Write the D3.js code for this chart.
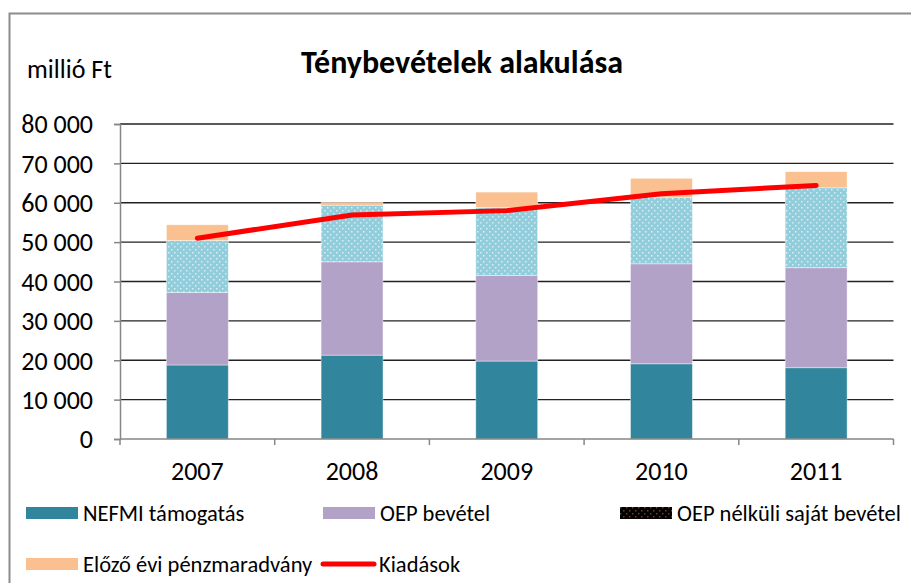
<!DOCTYPE html>
<html><head><meta charset="utf-8">
<script src="https://cdn.jsdelivr.net/npm/d3@7"></script>
<style>body{margin:0;background:#fff}svg{display:block}text{font-family:Carlito,Calibri,Lato,sans-serif}</style>
</head><body>
<script>
const years = ["2007","2008","2009","2010","2011"];
const nefmi = [18800, 21300, 19800, 19100, 18100];
const oep = [18400, 23700, 21700, 25400, 25400];
const sajat = [13200, 14400, 17300, 16900, 20300];
const maradvany = [4000, 700, 3900, 4800, 4100];
const kiadasok = [51000, 56900, 58000, 62300, 64400];
const yTicks = [0,10000,20000,30000,40000,50000,60000,70000,80000];
const seriesNames = ["NEFMI támogatás","OEP bevétel","OEP nélküli saját bevétel","Előző évi pénzmaradvány","Kiadások"];
const colors = ["#31859C","#B2A2C7","#92CDDC","#FAC090","#FF0000"];

const W=911,H=583;
const svg=d3.select("body").append("svg").attr("width",W).attr("height",H);
const defs=svg.append("defs");
const p1=defs.append("pattern").attr("id","dots").attr("width",6).attr("height",6).attr("patternUnits","userSpaceOnUse");
p1.append("rect").attr("width",6).attr("height",6).attr("fill",colors[2]);
p1.append("rect").attr("x",0).attr("y",0).attr("width",1.5).attr("height",1.5).attr("fill","#d6eef5");
p1.append("rect").attr("x",3).attr("y",3).attr("width",1.5).attr("height",1.5).attr("fill","#d6eef5");
const p2=defs.append("pattern").attr("id","dotsLeg").attr("width",6).attr("height",6).attr("patternUnits","userSpaceOnUse");
p2.append("rect").attr("width",6).attr("height",6).attr("fill","#000");
p2.append("rect").attr("x",0).attr("y",0).attr("width",1.5).attr("height",1.5).attr("fill","#7a3b1a");
p2.append("rect").attr("x",3).attr("y",3).attr("width",1.5).attr("height",1.5).attr("fill","#7a3b1a");

// frame
svg.append("path").attr("d","M9.5,600 L9.5,13.5 L920,13.5").attr("fill","none").attr("stroke","#8c8c8c").attr("stroke-width",2);

const x=d3.scaleBand().domain(years).range([120,893.5]).paddingInner(0.6).paddingOuter(0.3);
const y=d3.scaleLinear().domain([0,80000]).range([439,124]);

// gridlines
svg.append("g").selectAll("line").data(yTicks.slice(1)).join("line")
 .attr("x1",120).attr("x2",893.5).attr("y1",d=>y(d)).attr("y2",d=>y(d))
 .attr("stroke","#222").attr("stroke-width",1.3);

// stacks
const rows=years.map((yr,i)=>({year:yr,s0:nefmi[i],s1:oep[i],s2:sajat[i],s3:maradvany[i]}));
const stack=d3.stack().keys(["s0","s1","s2","s3"])(rows);
const fills=[colors[0],colors[1],"url(#dots)",colors[3]];
svg.append("g").selectAll("g").data(stack).join("g").attr("fill",(d,i)=>fills[i])
 .selectAll("rect").data(d=>d).join("rect")
 .attr("x",d=>x(d.data.year)).attr("width",x.bandwidth())
 .attr("y",d=>y(d[1])).attr("height",d=>y(d[0])-y(d[1]))
 .attr("stroke","rgba(255,255,255,0.5)").attr("stroke-width",0.8);

// axes
const ya=d3.axisLeft(y).tickValues(yTicks).tickSize(6).tickPadding(21)
 .tickFormat(d=>d3.format(",")(d).replace(/,/g," "));
const gy=svg.append("g").attr("transform","translate(120,0)").call(ya);
gy.select(".domain").attr("stroke","#868686").attr("stroke-width",1.5);
gy.selectAll(".tick line").attr("stroke","#868686").attr("stroke-width",1.5);
gy.selectAll("text").attr("font-size",26).attr("fill","#000").attr("dy","0.34em");

const xl=d3.scaleLinear().domain([0,5]).range([120,893.5]);
const gx=svg.append("g").attr("transform","translate(0,439)");
gx.append("line").attr("x1",120).attr("x2",893.5).attr("stroke","#868686").attr("stroke-width",1.5);
gx.selectAll(".tk").data(d3.range(0,6)).join("line").attr("class","tk")
 .attr("x1",d=>xl(d)).attr("x2",d=>xl(d)).attr("y1",0).attr("y2",6).attr("stroke","#868686").attr("stroke-width",1.5);
gx.selectAll("text").data(years).join("text").attr("x",d=>x(d)+x.bandwidth()/2).attr("y",41)
 .attr("text-anchor","middle").attr("font-size",26).text(d=>d);

// line
const line=d3.line().x((d,i)=>x(years[i])+x.bandwidth()/2).y(d=>y(d));
svg.append("path").datum(kiadasok).attr("d",line).attr("fill","none").attr("stroke",colors[4])
 .attr("stroke-width",5).attr("stroke-linecap","round").attr("stroke-linejoin","round");

// title
svg.append("text").attr("x",462).attr("y",73).attr("text-anchor","middle").attr("font-size",32).attr("font-weight","bold").text("Ténybevételek alakulása");
svg.append("text").attr("x",27).attr("y",78).attr("font-size",26).text("millió Ft");

// legend
const leg=[
 {name:seriesNames[0],x:26,y:513,type:"rect",fill:colors[0]},
 {name:seriesNames[1],x:323,y:513,type:"rect",fill:colors[1]},
 {name:seriesNames[2],x:620,y:513,type:"rect",fill:"url(#dotsLeg)"},
 {name:seriesNames[3],x:26,y:564,type:"rect",fill:colors[3]},
 {name:seriesNames[4],x:322,y:564,type:"line",fill:colors[4]}];
const lg=svg.append("g").selectAll("g").data(leg).join("g").attr("transform",d=>`translate(${d.x},${d.y})`);
lg.filter(d=>d.type==="rect").append("rect").attr("x",0).attr("y",-6).attr("width",52).attr("height",12).attr("fill",d=>d.fill);
lg.filter(d=>d.type==="line").append("line").attr("x1",1).attr("x2",52).attr("stroke",d=>d.fill).attr("stroke-width",5).attr("stroke-linecap","round");
lg.append("text").attr("x",57).attr("y",0).attr("dy","0.35em").attr("font-size",22.5).text(d=>d.name);
</script>
</body></html>
